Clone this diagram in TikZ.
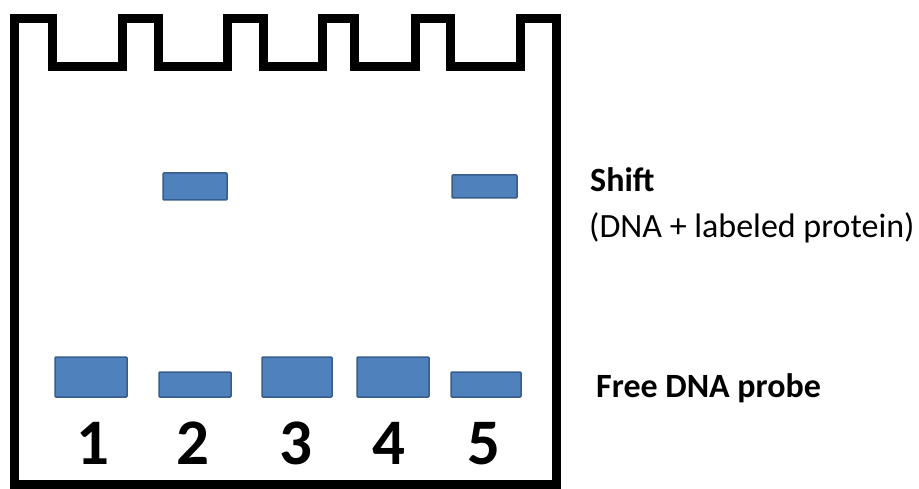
\documentclass[tikz,border=0pt]{standalone}
\usepackage{fontspec}
\setmainfont{Carlito}
\begin{document}
\begin{tikzpicture}[x=1pt,y=-1pt,
  gelline/.style={line width=9pt, line join=miter, draw=black},
  band/.style={draw=bandedge, fill=bandfill, line width=1.5pt, rounded corners=1pt,
    inner sep=0pt, outer sep=0pt, anchor=north west},
  lanenum/.style={font=\fontsize{65}{65}\selectfont\bfseries, anchor=base, inner sep=0pt},
  label/.style={anchor=base west, inner sep=0pt, font=\fontsize{34}{34}\selectfont}]
\definecolor{bandfill}{HTML}{4F81BD}
\definecolor{bandedge}{HTML}{385D8A}
\useasboundingbox (0,0) rectangle (919,489);

% gel outline with the comb wells along the top
\draw[gelline] (14,484) -- (14,18.5) -- (52,18.5) -- (52,67) -- (122.5,67) -- (122.5,18.5)
  -- (158,18.5) -- (158,67) -- (227.5,67) -- (227.5,18.5)
  -- (263.5,18.5) -- (263.5,67) -- (322.5,67) -- (322.5,18.5)
  -- (354.5,18.5) -- (354.5,67) -- (415.5,67) -- (415.5,18.5)
  -- (450.5,18.5) -- (450.5,67) -- (520.5,67) -- (520.5,18.5)
  -- (556.5,18.5) -- (556.5,484) -- cycle;

% shifted complexes
\node[band, minimum width=64pt, minimum height=27pt] (s2) at (163,173) {};
\node[band, minimum width=65pt, minimum height=23pt] (s5) at (452,175) {};

% free probe bands
\node[band, minimum width=72pt, minimum height=40pt] (f1) at (55,357) {};
\node[band, minimum width=72pt, minimum height=25pt] (f2) at (159,372) {};
\node[band, minimum width=70pt, minimum height=40pt] (f3) at (262,357) {};
\node[band, minimum width=72pt, minimum height=40pt] (f4) at (357,357) {};
\node[band, minimum width=70pt, minimum height=25pt] (f5) at (451,372) {};

% lane numbers
\node[lanenum] (n1) at (93,464) {1};
\node[lanenum] (n2) at (193,464) {2};
\node[lanenum] (n3) at (296,464) {3};
\node[lanenum] (n4) at (389,464) {4};
\node[lanenum] (n5) at (484,464) {5};

% legend
\node[label, font=\fontsize{34}{34}\selectfont\bfseries] (shift) at (590,192) {Shift};
\node[label] (shiftnote) at (589,238) {(DNA + labeled protein)};
\node[label, font=\fontsize{34}{34}\selectfont\bfseries] (free) at (596,397) {Free DNA probe};
\end{tikzpicture}
\end{document}
